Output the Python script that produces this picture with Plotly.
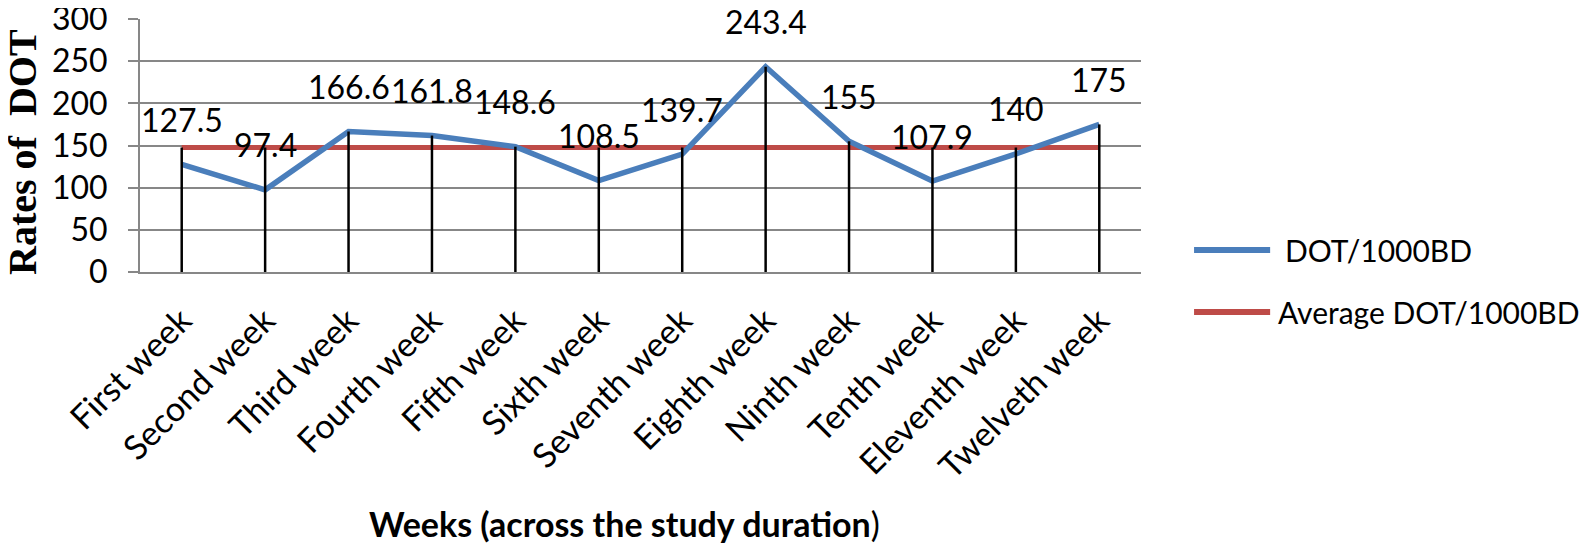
import plotly.graph_objects as go

# ─── Data ─────────────────────────────────────────────────────────────────────

weeks = [
    "First week", "Second week", "Third week", "Fourth week", "Fifth week",
    "Sixth week", "Seventh week", "Eighth week", "Ninth week", "Tenth week",
    "Eleventh week", "Twelveth week",
]
dot_rate = [127.5, 97.4, 166.6, 161.8, 148.6, 108.5, 139.7, 243.4, 155, 107.9, 140, 175]
dot_labels = ["127.5", "97.4", "166.6", "161.8", "148.6", "108.5",
              "139.7", "243.4", "155", "107.9", "140", "175"]
avg_rate = [147.6, 147.6, 147.6, 147.6, 147.6, 147.6,
            147.6, 147.6, 147.6, 147.6, 147.6, 147.6]
y_ticks = [0, 50, 100, 150, 200, 250, 300]

# ─── Style ────────────────────────────────────────────────────────────────────

_FONT  = "Lato, Calibri, 'Open Sans', sans-serif"
_SERIF = "'Liberation Serif', 'Times New Roman', serif"
_GRID  = "#878787"
_BLUE  = "#4a7ebb"
_RED   = "#be4b48"

# the page body adds an 8 px offset, so margins are trimmed by that amount
_MARGIN = dict(l=132, r=461, t=11, b=280)

# drop lines: from 0 up to the highest series value at each week
drop_x, drop_y = [], []
for w, a, b in zip(weeks, dot_rate, avg_rate):
    drop_x += [w, w, None]
    drop_y += [0, max(a, b), None]

fig = go.Figure()

fig.add_trace(go.Scatter(
    x=weeks, y=avg_rate,
    name="Average DOT/1000BD",
    mode="lines",
    line=dict(color=_RED, width=5),
    showlegend=False,
))
fig.add_trace(go.Scatter(
    x=weeks, y=dot_rate,
    name="DOT/1000BD",
    mode="lines",
    line=dict(color=_BLUE, width=5.5),
    showlegend=False,
))
fig.add_trace(go.Scatter(
    x=drop_x, y=drop_y,
    mode="lines",
    line=dict(color="black", width=2.5),
    showlegend=False,
    hoverinfo="skip",
))

# data labels above the blue line
for w, v, t in zip(weeks, dot_rate, dot_labels):
    fig.add_annotation(
        x=w, y=v, text=t,
        showarrow=False,
        yshift=45,
        xanchor="center", yanchor="middle",
        font=dict(family=_FONT, size=32, color="black"),
    )

# ─── Legend (drawn by hand to get the long Excel-style samples) ──────────────

legend_items = [
    ("DOT/1000BD", _BLUE, 0.087, 1.142),
    ("Average DOT/1000BD", _RED, -0.158, 1.135),
]
for name, color, ly, tx in legend_items:
    fig.add_shape(
        type="line", xref="paper", yref="paper",
        x0=1.053, x1=1.129, y0=ly, y1=ly,
        line=dict(color=color, width=6),
    )
    fig.add_annotation(
        text=name,
        xref="paper", yref="paper",
        x=tx, y=ly,
        xanchor="left", yanchor="middle",
        showarrow=False,
        font=dict(family=_FONT, size=30, color="black"),
    )

# axis titles
fig.add_annotation(
    text="<b>Weeks (across the study duration</b>)",
    xref="paper", yref="paper",
    x=0.4845, y=-0.996,
    xanchor="center", yanchor="middle",
    showarrow=False,
    font=dict(family=_FONT, size=34, color="black"),
)
fig.add_annotation(
    text="<b>Rates of\u00a0 DOT</b>",
    xref="paper", yref="paper",
    x=-0.118, y=0.474,
    xanchor="center", yanchor="middle",
    textangle=-90,
    showarrow=False,
    font=dict(family=_SERIF, size=40, color="black"),
)

fig.update_layout(
    width=1594, height=544,
    paper_bgcolor="white",
    plot_bgcolor="white",
    margin=_MARGIN,
    font=dict(family=_FONT, size=30, color="black"),
    showlegend=False,
    xaxis=dict(
        type="category",
        range=[-0.5, 11.5],
        showgrid=False,
        showline=True, linecolor=_GRID, linewidth=2,
        ticks="",
        tickangle=-45,
        ticklabelstandoff=13,
        automargin=False,
        tickfont=dict(family=_FONT, size=34, color="black"),
    ),
    yaxis=dict(
        range=[0, 300],
        tickvals=y_ticks,
        showgrid=True, gridcolor=_GRID, gridwidth=2,
        zeroline=False,
        showline=True, linecolor=_GRID, linewidth=2,
        ticks="outside", ticklen=10, tickcolor=_GRID, tickwidth=2,
        ticklabelstandoff=14,
        ticklabeloverflow="allow",
        automargin=False,
        tickfont=dict(family=_FONT, size=32, color="black"),
    ),
)

fig.write_html("out.html")
